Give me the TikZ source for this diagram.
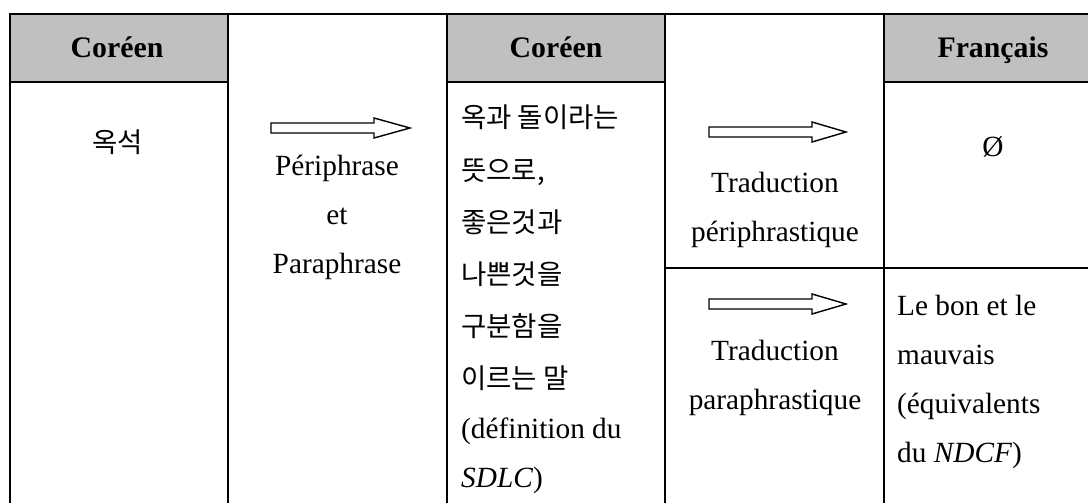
\documentclass[tikz,border=0pt]{standalone}
\usepackage{fontspec}
\setmainfont{Liberation Serif}
\newfontfamily\krfont{Noto Sans CJK KR}
\definecolor{hdrgray}{RGB}{192,192,192}
\begin{document}
\begin{tikzpicture}[x=1pt,y=-1pt,
  gridline/.style={line width=2.4pt, line cap=rect},
  hdrcell/.style={fill=hdrgray},
  latin/.style={font=\fontsize{29.3}{29.3}\selectfont, inner sep=0pt, anchor=base},
  latinL/.style={latin, anchor=base west},
  hdrtext/.style={font=\fontsize{29.8}{29.8}\selectfont\bfseries, inner sep=0pt, anchor=base},
  kor/.style={font=\krfont\fontsize{27.5}{27.5}\selectfont, inner sep=0pt, anchor=base west},
  korC/.style={font=\krfont\fontsize{27.5}{27.5}\selectfont, inner sep=0pt, anchor=base},
  blockarrow/.style={draw, line width=1.4pt, line join=miter, fill=white}]
\useasboundingbox (0,0) rectangle (1088,503);
\clip (0,0) rectangle (1088,503);
% header fills
\fill[hdrcell] (10,14) rectangle (228,82);
\fill[hdrcell] (447,14) rectangle (665,82);
\fill[hdrcell] (884,14) rectangle (1110,82);
% grid
\draw[gridline] (10,14) -- (1110,14);
\draw[gridline] (10,82) -- (228,82);
\draw[gridline] (447,82) -- (665,82);
\draw[gridline] (884,82) -- (1110,82);
\draw[gridline] (665,268) -- (1110,268);
\foreach \xx in {10,228,447,665,884,1102} {\draw[gridline] (\xx,14) -- (\xx,520);}
% headers
\node[hdrtext] (h1) at (117,58) {Coréen};
\node[hdrtext] (h3) at (556,58) {Coréen};
\node[hdrtext] (h5) at (993,58) {Français};
% column 1
\node[korC] (c1) at (117.5,152) {옥석};
% column 2
\draw[blockarrow] (271,123) -- (374,123) -- (374,118) -- (410,128) -- (374,138) -- (374,133) -- (271,133) -- cycle;
\node[latin] (p1) at (337,175) {Périphrase};
\node[latin] (p2) at (337,224) {et};
\node[latin] (p3) at (337,273) {Paraphrase};
% column 3
\node[kor] (k1) at (461,128) {옥과 돌이라는};
\node[kor] (k2) at (461,180) {뜻으로,};
\node[kor] (k3) at (461,232) {좋은것과};
\node[kor] (k4) at (461,284) {나쁜것을};
\node[kor] (k5) at (461,336) {구분함을};
\node[kor] (k6) at (461,388) {이르는 말};
\node[latinL] (k7) at (461,438) {(définition du};
\node[latinL] (k8) at (461,487) {\textit{SDLC})};
% column 4
\draw[blockarrow] (709,127) -- (812,127) -- (812,122) -- (846,132) -- (812,142) -- (812,137) -- (709,137) -- cycle;
\node[latin] (t1) at (775,192) {Traduction};
\node[latin] (t2) at (775,241) {périphrastique};
\draw[blockarrow] (709,299) -- (812,299) -- (812,294) -- (846,304) -- (812,314) -- (812,309) -- (709,309) -- cycle;
\node[latin] (t3) at (775,360) {Traduction};
\node[latin] (t4) at (775,409) {paraphrastique};
% column 5
\node[latin] (f1) at (993,157) {Ø};
\node[latinL] (f2) at (897,315) {Le bon et le};
\node[latinL] (f3) at (897,364) {mauvais};
\node[latinL] (f4) at (897,413) {(équivalents};
\node[latinL] (f5) at (897,462) {du \textit{NDCF})};
\end{tikzpicture}
\end{document}
